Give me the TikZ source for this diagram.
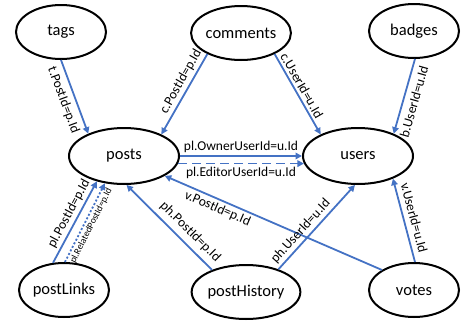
\documentclass[tikz,border=0pt]{standalone}
\usepackage{fontspec}
\setmainfont{Carlito}
\usetikzlibrary{shapes.geometric,arrows.meta}
\definecolor{fkblue}{HTML}{4472C4}

\begin{document}
\begin{tikzpicture}[x=1pt,y=-1pt,
  table/.style={ellipse,draw,line width=2pt,minimum width=90pt,minimum height=54pt,inner sep=0pt,font=\fontsize{16.5}{18}\selectfont},
  bigtable/.style={table,minimum width=110pt,minimum height=56pt},
  fk/.style={draw=fkblue,line width=1.8pt,-{Triangle[length=6.5pt,width=6.5pt]},color=fkblue},
  lbl/.style={sloped,text=black,font=\fontsize{13.5}{15}\selectfont,inner sep=2.5pt},
  farlbl/.style={lbl,inner sep=5pt}]

\useasboundingbox (0,0) rectangle (461,327);

\node[table] (tags) at (61,32) {tags};
\node[table] (comments) at (241,33) {comments};
\node[table] (badges) at (414,31) {badges};
\node[bigtable] (posts) at (124,156) {posts};
\node[bigtable] (users) at (358,156) {users};
\node[table] (postLinks) at (64,290) {postLinks};
\node[table] (postHistory) at (246,292) {postHistory};
\node[table] (votes) at (414,290) {votes};

\draw[fk] (tags.south) -- node[farlbl,below,pos=0.49] {t.PostId=p.Id} (posts.148);
\draw[fk] (comments.212) -- node[lbl,above,pos=0.4] {c.PostId=p.Id} (posts.30);
\draw[fk] (comments.-32) -- node[lbl,above,pos=0.44] {c.UserId=u.Id} (users.150);
\draw[fk] (badges.-88) -- node[farlbl,below,pos=0.53] {b.UserId=u.Id} (users.32);

\draw[fk] (posts.east) -- node[lbl,above] {pl.OwnerUserId=u.Id} (users.west);
\draw[fk,dash pattern=on 9pt off 5pt] (posts.-8) -- node[lbl,below] {pl.EditorUserId=u.Id} (users.188);

\draw[fk] (postLinks.112) -- node[lbl,above,pos=0.55] {pl.PostId=p.Id} (posts.223);
\draw[fk,dash pattern=on 2pt off 2pt] (postLinks.88) -- node[lbl,below,pos=0.5,font=\fontsize{9.5}{11}\selectfont,inner sep=2pt] {pl.RelatedPostId=p.Id} (posts.235);
\draw[fk] (postHistory.147) -- node[farlbl,above,pos=0.35] {ph.PostId=p.Id} (posts.275);
\draw[fk] (votes.148) -- node[lbl,below,pos=0.74] {v.PostId=p.Id} (posts.-26);

\draw[fk] (postHistory.35) -- node[lbl,above,pos=0.38] {ph.UserId=u.Id} (users.264);
\draw[fk] (votes.88) -- node[farlbl,above,pos=0.5] {v.UserId=u.Id} (users.-33);
\end{tikzpicture}
\end{document}
